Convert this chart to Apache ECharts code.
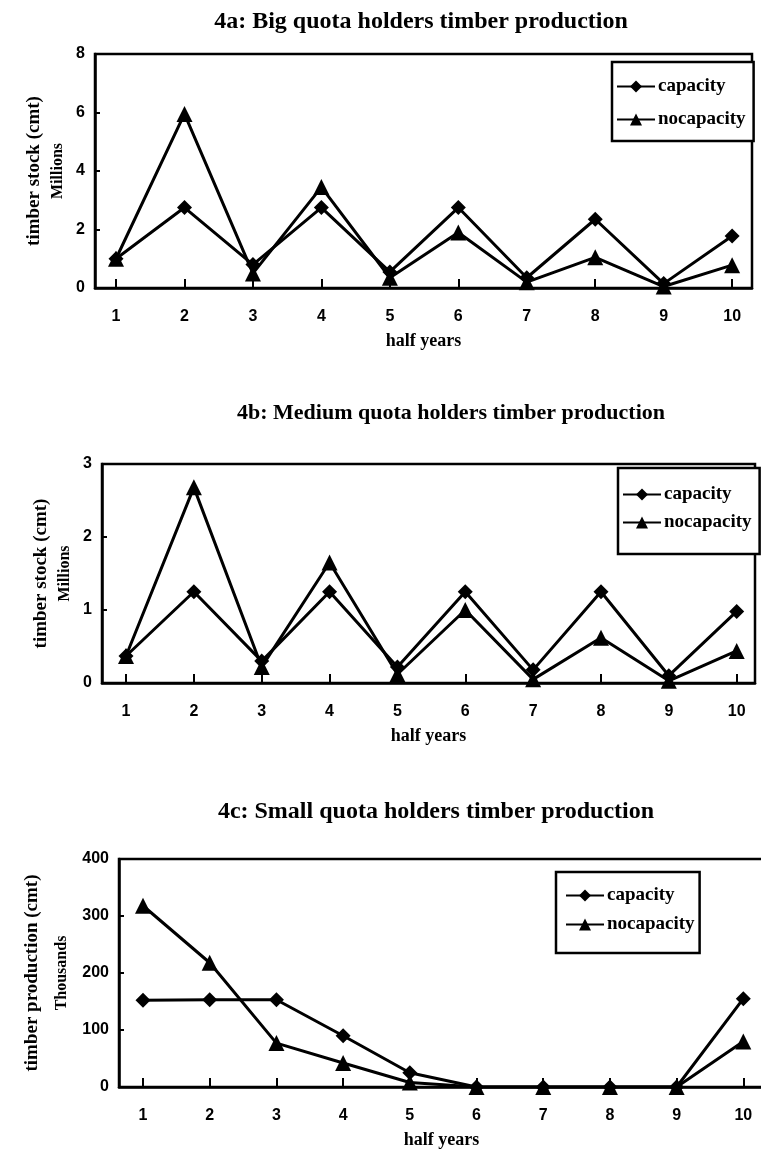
<!DOCTYPE html>
<html>
<head>
<meta charset="utf-8">
<script src="https://cdn.jsdelivr.net/npm/echarts@6/dist/echarts.min.js"></script>
<style>
  html, body { margin: 0; padding: 0; background: #fff; }
  #chart { width: 761px; height: 1153px; }
</style>
</head>
<body>
<div id="chart"></div>
<script>
// data
const halfYears = [1, 2, 3, 4, 5, 6, 7, 8, 9, 10];
const seriesNames = ['capacity', 'nocapacity'];

const bigCapacity = [1.0, 2.75, 0.8, 2.75, 0.55, 2.75, 0.35, 2.35, 0.15, 1.78];
const bigNoCapacity = [1.0, 5.95, 0.5, 3.45, 0.35, 1.9, 0.2, 1.05, 0.05, 0.78];

const mediumCapacity = [0.37, 1.25, 0.3, 1.25, 0.22, 1.25, 0.18, 1.25, 0.1, 0.98];
const mediumNoCapacity = [0.37, 2.68, 0.22, 1.65, 0.12, 1.0, 0.05, 0.62, 0.03, 0.44];

const smallCapacity = [152, 153, 153, 90, 25, 0, 0, 0, 0, 155];
const smallNoCapacity = [318, 218, 77, 42, 8, 0, 0, 0, 0, 80];

const titles = [
  '4a: Big quota holders timber production',
  '4b: Medium quota holders timber production',
  '4c: Small quota holders timber production'
];
const yNames = ['timber stock (cmt)', 'timber stock (cmt)', 'timber production (cmt)'];
const yUnits = ['Millions', 'Millions', 'Thousands'];
const yMax = [8, 3, 400];
const yStep = [2, 1, 100];

const serif = 'Liberation Serif';
const sans = 'Liberation Sans';

const myChart = echarts.init(document.getElementById('chart'));

// layout of the three panels (pixels)
const panels = [
  {grid: {left: 95, top: 54, right: 9, height: 234}, xMin: 0.693, xMax: 10.29,
    titleX: 421, titleY: 10, titleSize: 24,
    legend: {left: 612, top: 62, padding: [15, 8, 12, 4], itemGap: 14}, nameGap: 25},
  {grid: {left: 102, top: 464, right: 6, height: 219}, xMin: 0.646, xMax: 10.27,
    titleX: 451, titleY: 402, titleSize: 22,
    legend: {left: 618, top: 468, padding: [17, 8, 22, 4], itemGap: 9}, nameGap: 25},
  {grid: {left: 119, top: 859, right: -3, height: 228}, xMin: 0.64, xMax: 10.31,
    titleX: 436, titleY: 800, titleSize: 24,
    legend: {left: 556, top: 872, padding: [14, 5, 19, 9], itemGap: 10}, nameGap: 42}
];
const values = [
  [bigCapacity, bigNoCapacity],
  [mediumCapacity, mediumNoCapacity],
  [smallCapacity, smallNoCapacity]
];

const toPoints = arr => halfYears.map((x, i) => [x, arr[i]]);

const option = {
  backgroundColor: '#fff',
  animation: false,
  title: panels.map((p, i) => ({
    text: titles[i],
    left: p.titleX,
    top: p.titleY,
    textAlign: 'center',
    padding: 0,
    textStyle: {fontFamily: serif, fontWeight: 'bold', fontSize: p.titleSize, color: '#000'}
  })),
  legend: panels.map(p => ({
    data: seriesNames,
    orient: 'vertical',
    left: p.legend.left,
    top: p.legend.top,
    padding: p.legend.padding,
    itemGap: p.legend.itemGap,
    itemWidth: 38,
    itemHeight: 15,
    backgroundColor: '#fff',
    borderColor: '#000',
    borderWidth: 2.5,
    borderRadius: 0,
    textStyle: {fontFamily: serif, fontWeight: 'bold', fontSize: 19, color: '#000', padding: [0, 0, 0, -2]}
  })),
  grid: panels.map(p => Object.assign({
    show: true,
    borderColor: '#000',
    borderWidth: 2.5,
    outerBoundsMode: 'none',
    containLabel: false
  }, p.grid)),
  xAxis: panels.map((p, i) => ({
    type: 'value',
    gridIndex: i,
    min: p.xMin,
    max: p.xMax,
    name: 'half years',
    nameLocation: 'middle',
    nameGap: 44,
    nameTextStyle: {fontFamily: serif, fontWeight: 'bold', fontSize: 18, color: '#000'},
    axisLine: {lineStyle: {color: '#000', width: 2.5}},
    axisTick: {inside: true, length: 9, customValues: halfYears, lineStyle: {color: '#000', width: 2}},
    axisLabel: {
      margin: 21,
      customValues: halfYears,
      fontFamily: sans, fontWeight: 'bold', fontSize: 16, color: '#000'
    },
    splitLine: {show: false}
  })),
  yAxis: panels.map((p, i) => ({
    type: 'value',
    gridIndex: i,
    min: 0,
    max: yMax[i],
    interval: yStep[i],
    name: '{a|' + yNames[i] + '}\n{b|' + yUnits[i] + '}',
    nameLocation: 'middle',
    nameRotate: 90,
    nameGap: p.nameGap,
    nameMoveOverlap: false,
    nameTextStyle: {
      color: '#000',
      rich: {
        a: {fontFamily: serif, fontWeight: 'bold', fontSize: 19, lineHeight: i === 2 ? 30 : 24, color: '#000'},
        b: {fontFamily: serif, fontWeight: 'bold', fontSize: 16, lineHeight: i === 2 ? 30 : 24, color: '#000'}
      }
    },
    axisLine: {show: true, lineStyle: {color: '#000', width: 2.5}},
    axisTick: {show: true, inside: true, length: 5, lineStyle: {color: '#000', width: 2}},
    axisLabel: {margin: 10, fontFamily: sans, fontWeight: 'bold', fontSize: 16, color: '#000'},
    splitLine: {show: false}
  })),
  series: []
};

values.forEach((pair, i) => {
  pair.forEach((arr, k) => {
    option.series.push({
      name: seriesNames[k],
      type: 'line',
      xAxisIndex: i,
      yAxisIndex: i,
      symbol: k === 0 ? 'diamond' : 'triangle',
      symbolSize: k === 0 ? 15 : 16,
      lineStyle: {color: '#000', width: 3},
      itemStyle: {color: '#000'},
      data: toPoints(arr)
    });
  });
});

myChart.setOption(option);
</script>
</body>
</html>
